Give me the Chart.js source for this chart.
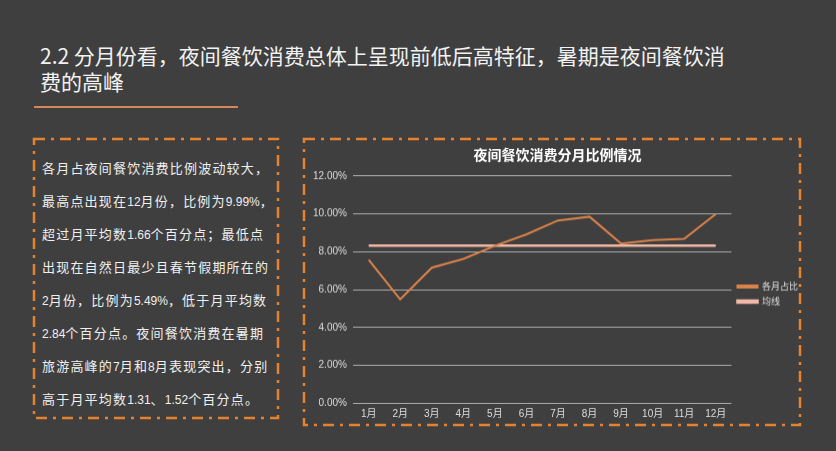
<!DOCTYPE html>
<html>
<head>
<meta charset="utf-8">
<script src="https://cdn.jsdelivr.net/npm/chart.js@4.4.1/dist/chart.umd.min.js"></script>
<style>
  html, body { margin: 0; padding: 0; }
  body {
    width: 836px; height: 451px; overflow: hidden; position: relative;
    background: #3f3f3f;
    font-family: "Noto Sans CJK SC", "Noto Sans", sans-serif;
    color: #f0f0f0;
  }
  #heading {
    position: absolute; left: 40px; top: 42px;
    font-size: 21px; line-height: 26px; white-space: nowrap;
    color: #f2f2f2;
  }
  #underline {
    position: absolute; left: 34px; top: 106px; width: 204px; height: 2px;
    background: #d48858;
  }
  #frames { position: absolute; left: 0; top: 0; }
  #note {
    position: absolute; left: 42px; top: 151px;
    font-size: 13px; line-height: 33px; letter-spacing: 1.2px;
    white-space: nowrap; color: #f0f0f0;
  }
  #note .n { letter-spacing: 0; font-size: 12px; line-height: 0; font-family: "Liberation Sans", "Noto Sans CJK SC", sans-serif; }
  #chartBox { position: absolute; left: 305px; top: 140px; width: 503px; height: 288.5px; }
</style>
</head>
<body>
<div id="heading">2.2 分月份看，夜间餐饮消费总体上呈现前低后高特征，暑期是夜间餐饮消<br>费的高峰</div>
<div id="underline"></div>

<svg id="frames" width="836" height="451">
  <g fill="none" stroke="#e5822f" stroke-width="2.5" stroke-dasharray="11 6 3 6">
    <rect x="34" y="139" width="244" height="279"></rect>
    <rect x="304" y="139" width="496" height="286"></rect>
  </g>
</svg>

<div id="note">各月占夜间餐饮消费比例波动较大，<br>最高点出现在<span class="n">12</span>月份，比例为<span class="n">9.99%</span>，<br>超过月平均数<span class="n">1.66</span>个百分点；最低点<br>出现在自然日最少且春节假期所在的<br><span class="n">2</span>月份，比例为<span class="n">5.49%</span>，低于月平均数<br><span class="n">2.84</span>个百分点。夜间餐饮消费在暑期<br>旅游高峰的<span class="n">7</span>月和<span class="n">8</span>月表现突出，分别<br>高于月平均数<span class="n">1.31</span>、<span class="n">1.52</span>个百分点。</div>

<div id="chartBox"><canvas id="monthChart"></canvas></div>

<script>
const months = ['1月', '2月', '3月', '4月', '5月', '6月', '7月', '8月', '9月', '10月', '11月', '12月'];
// share of night-time dining spend per month (%)
const monthShare = [7.57, 5.49, 7.16, 7.62, 8.32, 8.92, 9.65, 9.85, 8.43, 8.61, 8.68, 9.99];
// monthly average line (%)
const avgLine = [8.33, 8.33, 8.33, 8.33, 8.33, 8.33, 8.33, 8.33, 8.33, 8.33, 8.33, 8.33];
const yTicks = [0, 2, 4, 6, 8, 10, 12];

const fontFamily = '"Noto Sans CJK SC", "Noto Sans", sans-serif';
const tickFamily = '"Liberation Sans", "Noto Sans CJK SC", sans-serif';

new Chart(document.getElementById('monthChart'), {
  type: 'line',
  data: {
    labels: months,
    datasets: [
      {
        label: '各月占比',
        data: monthShare,
        borderColor: '#d9834a',
        backgroundColor: '#d9834a',
        borderWidth: 2,
        pointRadius: 0,
        tension: 0
      },
      {
        label: '均线',
        data: avgLine,
        borderColor: '#f3b9a8',
        backgroundColor: '#f3b9a8',
        borderWidth: 2.5,
        pointRadius: 0,
        tension: 0
      }
    ]
  },
  options: {
    responsive: true,
    maintainAspectRatio: false,
    animation: false,
    layout: { padding: { left: 2, right: 0, top: 0, bottom: 4 } },
    plugins: {
      title: {
        display: true,
        text: '夜间餐饮消费分月比例情况',
        color: '#ffffff',
        font: { family: fontFamily, size: 14, weight: 'bold' },
        padding: { top: 6, bottom: 13 }
      },
      legend: {
        position: 'right',
        title: { display: true, text: '', font: { size: 9 }, padding: { top: 6, bottom: 5.5 } },
        labels: {
          color: '#dddddd',
          font: { family: fontFamily, size: 9 },
          boxWidth: 20,
          boxHeight: 2,
          padding: 6
        }
      },
      tooltip: { enabled: false }
    },
    scales: {
      x: {
        offset: true,
        grid: { display: false, drawTicks: false },
        border: { display: false },
        ticks: { color: '#dddddd', font: { family: tickFamily, size: 10 }, padding: 5 }
      },
      y: {
        min: 0,
        max: 12,
        afterBuildTicks: (axis) => { axis.ticks = yTicks.map(v => ({ value: v })); },
        grid: { color: '#acacac', lineWidth: 1, drawTicks: false },
        border: { display: false },
        ticks: {
          color: '#dddddd',
          font: { family: tickFamily, size: 10 },
          padding: 6,
          callback: (value) => `${value.toFixed(2)}%`
        }
      }
    }
  }
});
</script>
</body>
</html>
